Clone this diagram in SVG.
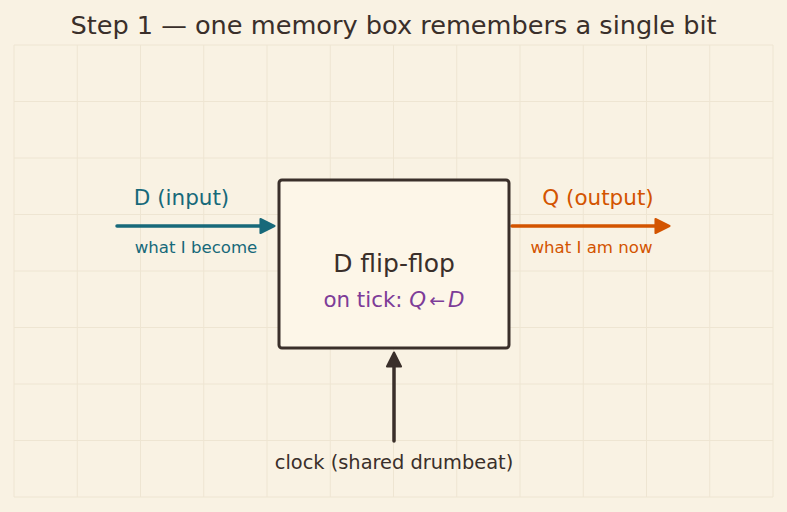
<svg xmlns="http://www.w3.org/2000/svg" width="787" height="512" viewBox="0 0 787 512">
<defs>
<style>
text{font-family:"DejaVu Sans","Liberation Sans",sans-serif;text-anchor:middle}
.grid line{stroke:#eee5d2;stroke-width:1}
.title{font-size:25.6px;fill:#3a2f2a}
.conn{fill:none;stroke-width:3.5;stroke-linecap:round}
</style>
<marker id="ahT" viewBox="0 0 10 10" refX="7" refY="5" markerWidth="5" markerHeight="5" orient="auto" markerUnits="strokeWidth"><path d="M1,1 L9,5 L1,9 z" fill="#17697a" stroke="#17697a" stroke-width="1.2" stroke-linejoin="round"/></marker>
<marker id="ahO" viewBox="0 0 10 10" refX="7" refY="5" markerWidth="5" markerHeight="5" orient="auto" markerUnits="strokeWidth"><path d="M1,1 L9,5 L1,9 z" fill="#d35400" stroke="#d35400" stroke-width="1.2" stroke-linejoin="round"/></marker>
<marker id="ahK" viewBox="0 0 10 10" refX="7" refY="5" markerWidth="5" markerHeight="5" orient="auto" markerUnits="strokeWidth"><path d="M1,1 L9,5 L1,9 z" fill="#3a2f2a" stroke="#3a2f2a" stroke-width="1.2" stroke-linejoin="round"/></marker>
</defs>
<rect width="787" height="512" fill="#f9f2e3"/>
<g class="grid">
<line x1="14" y1="45" x2="14" y2="497"/><line x1="77.25" y1="45" x2="77.25" y2="497"/><line x1="140.5" y1="45" x2="140.5" y2="497"/><line x1="203.75" y1="45" x2="203.75" y2="497"/><line x1="267" y1="45" x2="267" y2="497"/><line x1="330.25" y1="45" x2="330.25" y2="497"/><line x1="393.5" y1="45" x2="393.5" y2="497"/><line x1="456.75" y1="45" x2="456.75" y2="497"/><line x1="520" y1="45" x2="520" y2="497"/><line x1="583.25" y1="45" x2="583.25" y2="497"/><line x1="646.5" y1="45" x2="646.5" y2="497"/><line x1="709.75" y1="45" x2="709.75" y2="497"/><line x1="773" y1="45" x2="773" y2="497"/>
<line x1="14" y1="45" x2="773" y2="45"/><line x1="14" y1="101.5" x2="773" y2="101.5"/><line x1="14" y1="158" x2="773" y2="158"/><line x1="14" y1="214.5" x2="773" y2="214.5"/><line x1="14" y1="271" x2="773" y2="271"/><line x1="14" y1="327.5" x2="773" y2="327.5"/><line x1="14" y1="384" x2="773" y2="384"/><line x1="14" y1="440.5" x2="773" y2="440.5"/><line x1="14" y1="497" x2="773" y2="497"/>
</g>
<text class="title" x="393.5" y="34">Step 1 — one memory box remembers a single bit</text>
<g id="connectors">
<line class="conn" x1="117" y1="226" x2="271" y2="226" stroke="#17697a" marker-end="url(#ahT)"/>
<line class="conn" x1="512" y1="226" x2="666" y2="226" stroke="#d35400" marker-end="url(#ahO)"/>
<line class="conn" x1="394" y1="441" x2="394" y2="356" stroke="#3a2f2a" marker-end="url(#ahK)"/>
</g>
<g id="input">
<text x="181.5" y="205" font-size="21.5" fill="#17697a">D (input)</text>
<text x="196" y="253" font-size="16.6" fill="#17697a">what I become</text>
</g>
<g id="output">
<text x="598" y="205" font-size="21.5" fill="#d35400">Q (output)</text>
<text x="591.5" y="253" font-size="16.6" fill="#d35400">what I am now</text>
</g>
<g id="flipflop">
<rect x="279" y="180" width="230" height="168" rx="3" fill="#fdf6e8" stroke="#3a2f2a" stroke-width="3"/>
<text x="394" y="272" font-size="25" fill="#3a2f2a">D flip-flop</text>
<text x="394" y="307" font-size="21.4" fill="#7d3c98">on tick: <tspan font-style="italic">Q</tspan><tspan dx="3" font-size="19">←</tspan><tspan dx="3" font-style="italic">D</tspan></text>
</g>
<g id="clock">
<text x="394" y="469" font-size="19.4" fill="#3a2f2a">clock (shared drumbeat)</text>
</g>
</svg>
